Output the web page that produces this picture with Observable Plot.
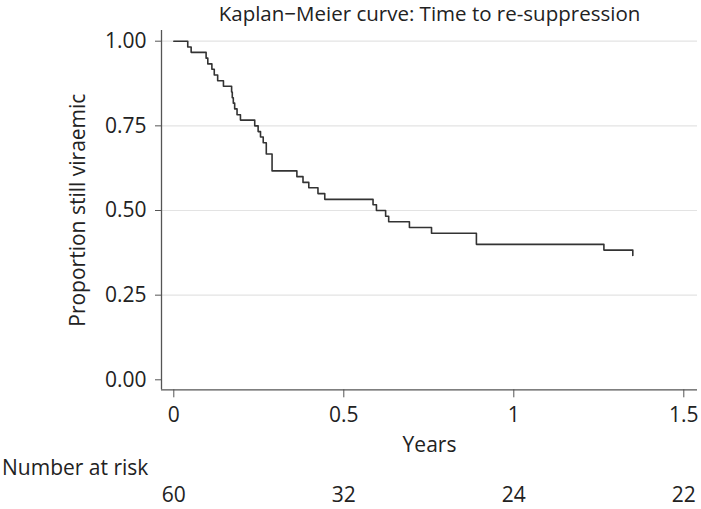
<!DOCTYPE html>
<html>
<head>
<meta charset="utf-8">
<script src="https://cdn.jsdelivr.net/npm/d3@7"></script>
<script src="https://cdn.jsdelivr.net/npm/@observablehq/plot@0.6"></script>
<style>
  html, body { margin: 0; padding: 0; background: #fff; }
</style>
</head>
<body>
<div id="chart"></div>
<script>
const title = "Kaplan−Meier curve: Time to re-suppression";
const xLabel = "Years";
const yLabel = "Proportion still viraemic";
const riskLabel = "Number at risk";

const times = [0, 0.041, 0.051, 0.095, 0.100, 0.112, 0.119, 0.129, 0.146, 0.170, 0.172, 0.175, 0.179, 0.186, 0.196, 0.238, 0.248, 0.255, 0.263, 0.272, 0.289, 0.362, 0.380, 0.397, 0.424, 0.444, 0.586, 0.596, 0.623, 0.632, 0.693, 0.758, 0.890, 1.265, 1.350];
const survival = [1, 0.983, 0.967, 0.950, 0.933, 0.917, 0.900, 0.883, 0.867, 0.850, 0.833, 0.817, 0.800, 0.783, 0.767, 0.750, 0.733, 0.717, 0.700, 0.667, 0.617, 0.600, 0.583, 0.567, 0.550, 0.533, 0.517, 0.500, 0.483, 0.467, 0.450, 0.433, 0.400, 0.383, 0.367];

const xTicks = [0, 0.5, 1, 1.5];
const xTickLabels = ["0", "0.5", "1", "1.5"];
const yTicks = [0, 0.25, 0.5, 0.75, 1];
const yGrid = [0.25, 0.5, 0.75, 1];

const riskTimes = [0, 0.5, 1, 1.5];
const riskCounts = [60, 32, 24, 22];

const curve = times.map((t, i) => ({t, s: survival[i]}));
const risk = riskTimes.map((t, i) => ({t, n: riskCounts[i]}));

const xDomain = [-0.0362, 1.5403];
const yDomain = [-0.0295, 1.0316];
const font = "'Open Sans', sans-serif";
const axisColor = "#555";
const textColor = "#222";
const fs = 21;

const chart = Plot.plot({
  width: 701,
  height: 509,
  marginTop: 30,
  marginBottom: 119.7,
  marginLeft: 161,
  marginRight: 4,
  style: {fontFamily: font, fontSize: fs + "px", background: "#fff", color: textColor},
  x: {domain: xDomain},
  y: {domain: yDomain},
  marks: [
    Plot.gridY(yGrid, {stroke: "#e3e3e3", strokeOpacity: 1, strokeWidth: 1.2}),
    Plot.ruleX([xDomain[0]], {stroke: axisColor, strokeWidth: 1.3}),
    Plot.ruleY([yDomain[0]], {stroke: axisColor, strokeWidth: 1.3}),
    Plot.axisY({ticks: yTicks, tickFormat: d3.format(".2f"), tickSize: 6, tickPadding: 9,
      stroke: axisColor, fill: textColor, fontSize: fs, label: null}),
    Plot.axisX({ticks: xTicks, tickFormat: (d) => xTickLabels[xTicks.indexOf(d)], tickSize: 8, tickPadding: 9,
      stroke: axisColor, fill: textColor, fontSize: fs, label: null}),
    Plot.line(curve, {x: "t", y: "s", curve: "step-after", stroke: "#333", strokeWidth: 1.6}),
    Plot.text([title], {frameAnchor: "top", dy: -24, text: d => d, fontSize: 20.5, fill: textColor}),
    Plot.text([xLabel], {frameAnchor: "bottom", dy: 62, text: d => d, fontSize: fs, fill: textColor}),
    Plot.text([yLabel], {frameAnchor: "left", dx: -83, rotate: -90, textAnchor: "middle", text: d => d, fontSize: fs, fill: textColor}),
    Plot.text([riskLabel], {frameAnchor: "bottom-left", dx: -159.5, dy: 85, textAnchor: "start", text: d => d, fontSize: fs, fill: textColor}),
    Plot.text(risk, {x: "t", frameAnchor: "bottom", dy: 112, text: d => String(d.n), fontSize: fs, fill: textColor})
  ]
});
document.getElementById("chart").appendChild(chart);
</script>
</body>
</html>
